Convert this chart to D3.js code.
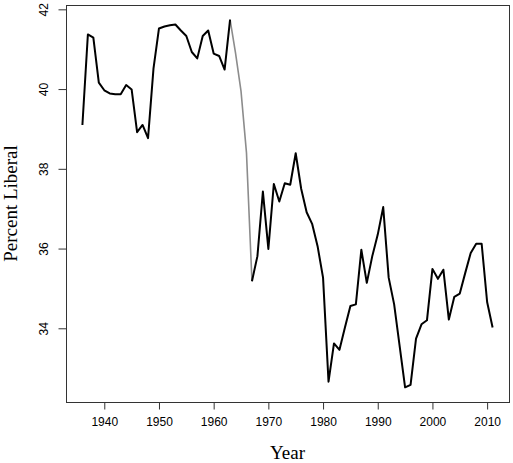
<!DOCTYPE html>
<html>
<head>
<meta charset="utf-8">
<script src="https://cdn.jsdelivr.net/npm/d3@7"></script>
<style>
    html, body { margin: 0; padding: 0; background: #fff; }
    svg { display: block; }
</style>
</head>
<body>
<div id="chart"></div>
<script>
// data
var years = [1936, 1937, 1938, 1939, 1940, 1941, 1942, 1943, 1944, 1945,
             1946, 1947, 1948, 1949, 1950, 1951, 1952, 1953, 1954, 1955,
             1956, 1957, 1958, 1959, 1960, 1961, 1962, 1963, 1964, 1965,
             1966, 1967, 1968, 1969, 1970, 1971, 1972, 1973, 1974, 1975,
             1976, 1977, 1978, 1979, 1980, 1981, 1982, 1983, 1984, 1985,
             1986, 1987, 1988, 1989, 1990, 1991, 1992, 1993, 1994, 1995,
             1996, 1997, 1998, 1999, 2000, 2001, 2002, 2003, 2004, 2005,
             2006, 2007, 2008, 2009, 2010, 2011];

// 1964-1966 are missing in the black series (null)
var liberal = [39.10, 41.37, 41.29, 40.16, 39.97, 39.89, 39.87, 39.87, 40.10, 39.99,
               38.92, 39.10, 38.77, 40.52, 41.52, 41.57, 41.60, 41.62, 41.47, 41.33,
               40.93, 40.77, 41.33, 41.47, 40.89, 40.83, 40.49, 41.74, null, null,
               null, 35.18, 35.81, 37.43, 35.99, 37.62, 37.18, 37.64, 37.60, 38.39,
               37.50, 36.91, 36.62, 36.06, 35.27, 32.66, 33.62, 33.46, 34.02, 34.56,
               34.60, 35.97, 35.14, 35.81, 36.35, 37.04, 35.27, 34.60, 33.56, 32.52,
               32.58, 33.74, 34.10, 34.20, 35.49, 35.24, 35.47, 34.22, 34.79, 34.87,
               35.39, 35.89, 36.12, 36.12, 34.66, 34.02];

// gray bridge over the gap
var bridgeYears = [1963, 1964, 1965, 1966, 1967];
var bridgeValues = [41.74, 40.90, 39.95, 38.40, 35.18];

var xTicks = [1940, 1950, 1960, 1970, 1980, 1990, 2000, 2010];
var yTicks = [34, 36, 38, 40, 42];

(function() {
    "use strict";

    var width = 513;
    var height = 463;
    var margin = {top: 5, right: 4, bottom: 61, left: 66};

    var svg = d3.select("#chart")
        .append("svg")
        .attr("width", width)
        .attr("height", height);

    //------------------------------------------------------------------
    // R style scales: data range padded by 4% on each side
    //------------------------------------------------------------------
    var pad = function(ext) {
        var r = ext[1] - ext[0];
        return [ext[0] - 0.04 * r, ext[1] + 0.04 * r];
    };

    var allValues = liberal.filter(function(v) { return v !== null; }).concat(bridgeValues);

    var x = d3.scaleLinear()
        .domain(pad(d3.extent(years)))
        .range([margin.left, width - margin.right]);

    var y = d3.scaleLinear()
        .domain(pad(d3.extent(allValues)))
        .range([height - margin.bottom, margin.top]);

    //------------------------------------------------------------------
    // Lines
    //------------------------------------------------------------------
    var mainData = years.map(function(d, i) { return {year: d, value: liberal[i]}; });
    var bridgeData = bridgeYears.map(function(d, i) { return {year: d, value: bridgeValues[i]}; });

    var line = d3.line()
        .defined(function(d) { return d.value !== null; })
        .x(function(d) { return x(d.year); })
        .y(function(d) { return y(d.value); });

    svg.append("path")
        .datum(bridgeData)
        .attr("d", line.curve(d3.curveLinear))
        .attr("fill", "none")
        .attr("stroke", "#8c8c8c")
        .attr("stroke-width", 1.6);

    svg.append("path")
        .datum(mainData)
        .attr("d", line)
        .attr("fill", "none")
        .attr("stroke", "#000")
        .attr("stroke-width", 2)
        .attr("stroke-linejoin", "round");

    //------------------------------------------------------------------
    // Box
    //------------------------------------------------------------------
    svg.append("rect")
        .attr("x", margin.left + 0.5)
        .attr("y", margin.top + 0.5)
        .attr("width", width - margin.left - margin.right)
        .attr("height", height - margin.top - margin.bottom)
        .attr("fill", "none")
        .attr("stroke", "#333")
        .attr("stroke-width", 1);

    //------------------------------------------------------------------
    // Axes
    //------------------------------------------------------------------
    var xAxis = svg.append("g")
        .attr("transform", "translate(0," + (height - margin.bottom + 0.5) + ")")
        .call(d3.axisBottom(x).tickValues(xTicks).tickSize(7).tickPadding(8).tickSizeOuter(0)
            .tickFormat(d3.format("d")));

    var yAxis = svg.append("g")
        .attr("transform", "translate(" + (margin.left + 0.5) + ",0)")
        .call(d3.axisLeft(y).tickValues(yTicks).tickSize(8).tickSizeOuter(0));

    [xAxis, yAxis].forEach(function(a) {
        a.select(".domain").remove();
        a.selectAll(".tick line").attr("stroke", "#333");
        a.selectAll(".tick text")
            .attr("fill", "#000")
            .style("font-family", "'Liberation Sans', Arial, sans-serif")
            .style("font-size", "12px");
    });

    // y tick labels are rotated, like R's default
    yAxis.selectAll(".tick text")
        .attr("x", null)
        .attr("dy", null)
        .attr("text-anchor", "middle")
        .attr("transform", "translate(-19,0) rotate(-90)");

    //------------------------------------------------------------------
    // Titles
    //------------------------------------------------------------------
    svg.append("text")
        .attr("x", (margin.left + width - margin.right) / 2)
        .attr("y", 459)
        .attr("text-anchor", "middle")
        .style("font-family", "'Liberation Serif', 'Times New Roman', serif")
        .style("font-size", "19px")
        .text("Year");

    svg.append("text")
        .attr("transform", "translate(17," + ((margin.top + height - margin.bottom) / 2) + ") rotate(-90)")
        .attr("text-anchor", "middle")
        .style("font-family", "'Liberation Serif', 'Times New Roman', serif")
        .style("font-size", "19px")
        .text("Percent Liberal");
})();
</script>
</body>
</html>
